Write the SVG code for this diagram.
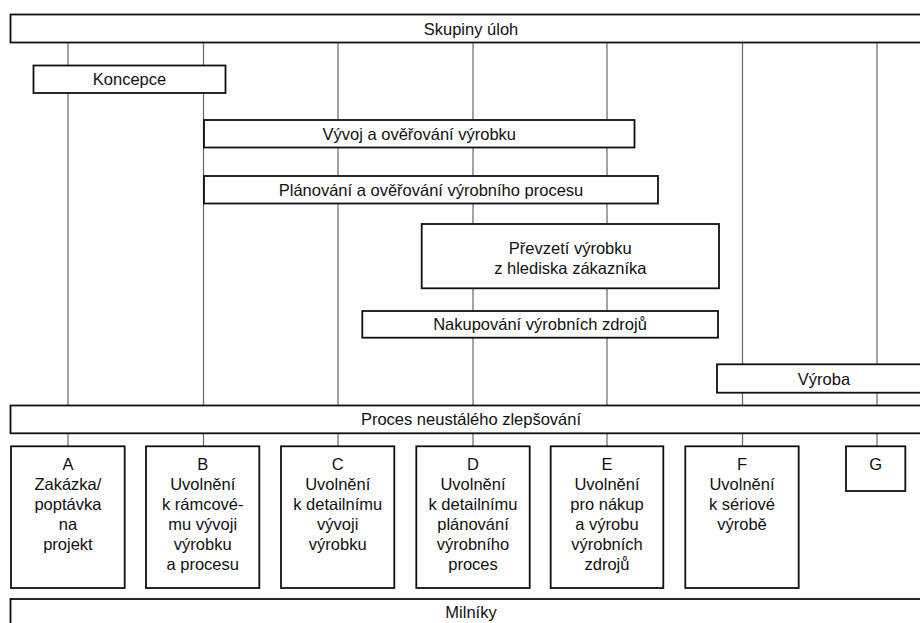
<svg xmlns="http://www.w3.org/2000/svg" width="920" height="623" viewBox="0 0 920 623">
<style>
.b{fill:#fff;stroke:#111;stroke-width:1.8}
.l{stroke:#666;stroke-width:1.2;fill:none}
text{font-family:"Liberation Sans",Arial,sans-serif;font-size:16.5px;fill:#111;text-anchor:middle}
</style>
<rect width="920" height="623" fill="#fff"/>
<g id="connectors">
<line class="l" x1="68" y1="42" x2="68" y2="446"/>
<line class="l" x1="203.5" y1="42" x2="203.5" y2="446"/>
<line class="l" x1="338" y1="42" x2="338" y2="446"/>
<line class="l" x1="473" y1="42" x2="473" y2="446"/>
<line class="l" x1="607" y1="42" x2="607" y2="446"/>
<line class="l" x1="742.5" y1="42" x2="742.5" y2="446"/>
<line class="l" x1="877" y1="42" x2="877" y2="446"/>
</g>
<g id="skupiny"><rect class="b" x="10.5" y="14.5" width="922" height="28"/><text x="471" y="34.5">Skupiny úloh</text></g>
<g id="koncepce"><rect class="b" x="33.5" y="65.5" width="192" height="27.5"/><text x="129.5" y="85">Koncepce</text></g>
<g id="vyvoj"><rect class="b" x="204" y="120" width="430.5" height="27.5"/><text x="419.3" y="139.6">Vývoj a ověřování výrobku</text></g>
<g id="planovani"><rect class="b" x="204" y="176" width="454" height="27.5"/><text x="431" y="195.6">Plánování a ověřování výrobního procesu</text></g>
<g id="prevzeti"><rect class="b" x="421.7" y="224" width="297.3" height="64.3"/><text x="570.3" y="254.3">Převzetí výrobku</text><text x="570.3" y="273.8">z hlediska zákazníka</text></g>
<g id="nakupovani"><rect class="b" x="362.3" y="311" width="355.7" height="26.7"/><text x="540" y="330.3">Nakupování výrobních zdrojů</text></g>
<g id="vyroba"><rect class="b" x="717" y="364.3" width="215" height="28.4"/><text x="824" y="384.5">Výroba</text></g>
<g id="proces"><rect class="b" x="10.5" y="405.5" width="922" height="27.8"/><text x="471" y="425.3">Proces neustálého zlepšování</text></g>
<g id="mA"><rect class="b" x="11" y="446.3" width="113.7" height="141.7"/>
<text x="67.9" y="469.5">A</text><text x="67.9" y="489.5">Zakázka/</text><text x="67.9" y="509.5">poptávka</text><text x="67.9" y="529.5">na</text><text x="67.9" y="549.5">projekt</text></g>
<g id="mB"><rect class="b" x="146" y="446.3" width="113.3" height="141.7"/>
<text x="202.7" y="469.5">B</text><text x="202.7" y="489.5">Uvolnění</text><text x="202.7" y="509.5">k rámcové-</text><text x="202.7" y="529.5">mu vývoji</text><text x="202.7" y="549.5">výrobku</text><text x="202.7" y="569.5">a procesu</text></g>
<g id="mC"><rect class="b" x="281" y="446.3" width="113.3" height="141.7"/>
<text x="337.7" y="469.5">C</text><text x="337.7" y="489.5">Uvolnění</text><text x="337.7" y="509.5">k detailnímu</text><text x="337.7" y="529.5">vývoji</text><text x="337.7" y="549.5">výrobku</text></g>
<g id="mD"><rect class="b" x="416.3" y="446.3" width="113.4" height="141.7"/>
<text x="473" y="469.5">D</text><text x="473" y="489.5">Uvolnění</text><text x="473" y="509.5">k detailnímu</text><text x="473" y="529.5">plánování</text><text x="473" y="549.5">výrobního</text><text x="473" y="569.5">proces</text></g>
<g id="mE"><rect class="b" x="550.7" y="446.3" width="112.6" height="141.7"/>
<text x="607" y="469.5">E</text><text x="607" y="489.5">Uvolnění</text><text x="607" y="509.5">pro nákup</text><text x="607" y="529.5">a výrobu</text><text x="607" y="549.5">výrobních</text><text x="607" y="569.5">zdrojů</text></g>
<g id="mF"><rect class="b" x="685.3" y="446.3" width="113.4" height="141.7"/>
<text x="742" y="469.5">F</text><text x="742" y="489.5">Uvolnění</text><text x="742" y="509.5">k sériové</text><text x="742" y="529.5">výrobě</text></g>
<g id="mG"><rect class="b" x="846" y="446.3" width="59.3" height="44.7"/>
<text x="875.7" y="469.5">G</text></g>
<g id="milniky"><rect class="b" x="10.5" y="599" width="922" height="40"/><text x="471" y="617.5">Milníky</text></g>
</svg>
